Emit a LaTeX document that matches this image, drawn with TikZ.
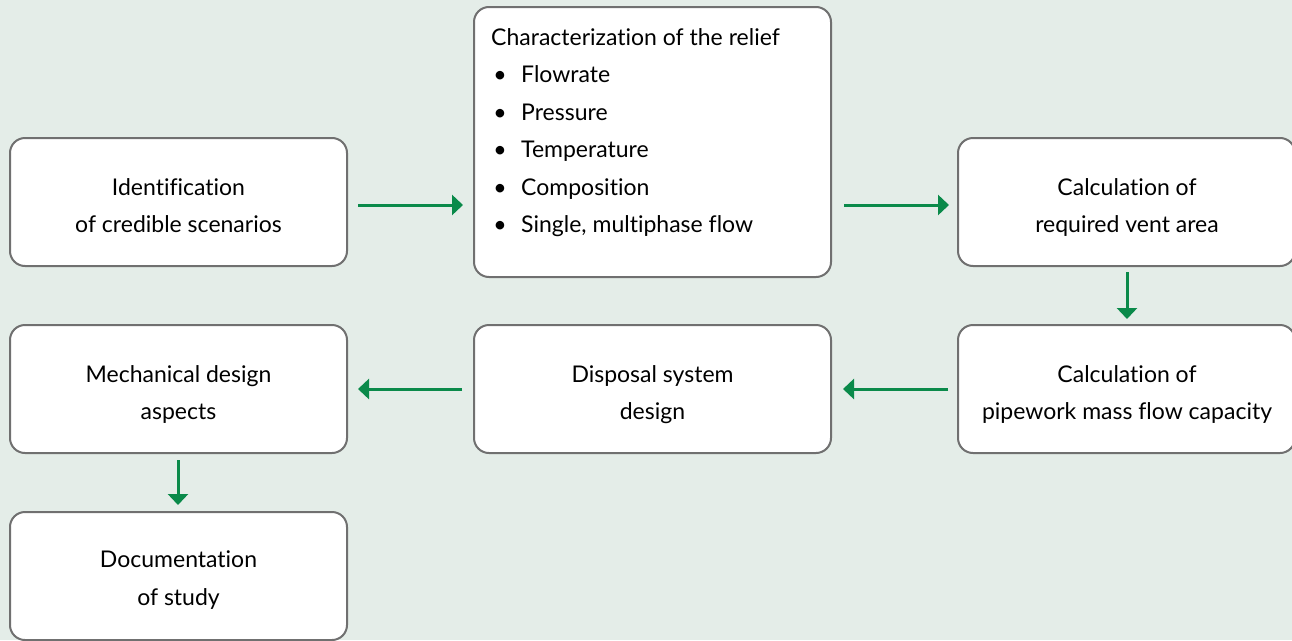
\documentclass[tikz,border=0pt]{standalone}
\usepackage{fontspec}
\setmainfont{Lato}[Ligatures={NoCommon,NoRare,NoDiscretionary}]
\usetikzlibrary{arrows.meta}
\definecolor{bgc}{HTML}{E4EDE8}
\definecolor{grc}{HTML}{0A8A4A}
\definecolor{bdc}{HTML}{707070}
\begin{document}
\begin{tikzpicture}[x=1pt,y=-1pt,
  box/.style={draw=bdc, line width=2pt, fill=white, rounded corners=15pt,
    minimum width=337pt, minimum height=128pt, inner sep=0pt},
  txt/.style={anchor=base, inner sep=0pt, font=\fontsize{23}{27}\selectfont},
  ltxt/.style={anchor=base west, inner sep=0pt, font=\fontsize{23}{27}\selectfont},
  arr/.style={draw=grc, line width=3pt, -{Triangle[length=11pt,width=20pt]}}]
\fill[bgc] (0,0) rectangle (1292,640);
\useasboundingbox (0,0) rectangle (1292,640);
\begin{scope}
\clip (0,0) rectangle (1292,640);
\node[box] (b1) at (178.5,202) {};
\node[box, minimum width=357pt, minimum height=270pt] (b2) at (652.5,142) {};
\node[box] (b3) at (1126.5,202) {};
\node[box] (b4) at (1126.5,389) {};
\node[box, minimum width=357pt] (b5) at (652.5,389) {};
\node[box] (b6) at (178.5,389) {};
\node[box] (b7) at (178.5,576) {};
\end{scope}
% texts
\node[txt] (t1a) at (178.5,195) {Identification};
\node[txt] (t1b) at (178.5,232) {of credible scenarios};
\node[ltxt] (t2) at (491,45) {Characterization of the relief};
\node[txt] (u1) at (500,82) {•};
\node[ltxt] (l1) at (521,82) {Flowrate};
\node[txt] (u2) at (500,120) {•};
\node[ltxt] (l2) at (521,120) {Pressure};
\node[txt] (u3) at (500,157) {•};
\node[ltxt] (l3) at (521,157) {Temperature};
\node[txt] (u4) at (500,195) {•};
\node[ltxt] (l4) at (521,195) {Composition};
\node[txt] (u5) at (500,232) {•};
\node[ltxt] (l5) at (521,232) {Single, multiphase flow};
\node[txt] (t3a) at (1127,195) {Calculation of};
\node[txt] (t3b) at (1127,232) {required vent area};
\node[txt] (t4a) at (1127,382) {Calculation of};
\node[txt] (t4b) at (1127,419) {pipework mass flow capacity};
\node[txt] (t5a) at (652.5,382) {Disposal system};
\node[txt] (t5b) at (652.5,419) {design};
\node[txt] (t6a) at (178.5,382) {Mechanical design};
\node[txt] (t6b) at (178.5,419) {aspects};
\node[txt] (t7a) at (178.5,567) {Documentation};
\node[txt] (t7b) at (178.5,605) {of study};
% arrows
\draw[arr, shorten <=10pt, shorten >=10pt] (b1.east |- 0,205) -- (b2.west |- 0,205);
\draw[arr, shorten <=12pt, shorten >=8pt] (b2.east |- 0,205) -- (b3.west |- 0,205);
\draw[arr, shorten <=5pt, shorten >=5pt] (b3.south -| 1127,0) -- (b4.north -| 1127,0);
\draw[arr, shorten <=9pt, shorten >=11pt] (b4.west |- 0,389) -- (b5.east |- 0,389);
\draw[arr, shorten <=11pt, shorten >=10pt] (b5.west |- 0,389) -- (b6.east |- 0,389);
\draw[arr, shorten <=6pt, shorten >=6pt] (b6.south -| 178,0) -- (b7.north -| 178,0);
\end{tikzpicture}
\end{document}
